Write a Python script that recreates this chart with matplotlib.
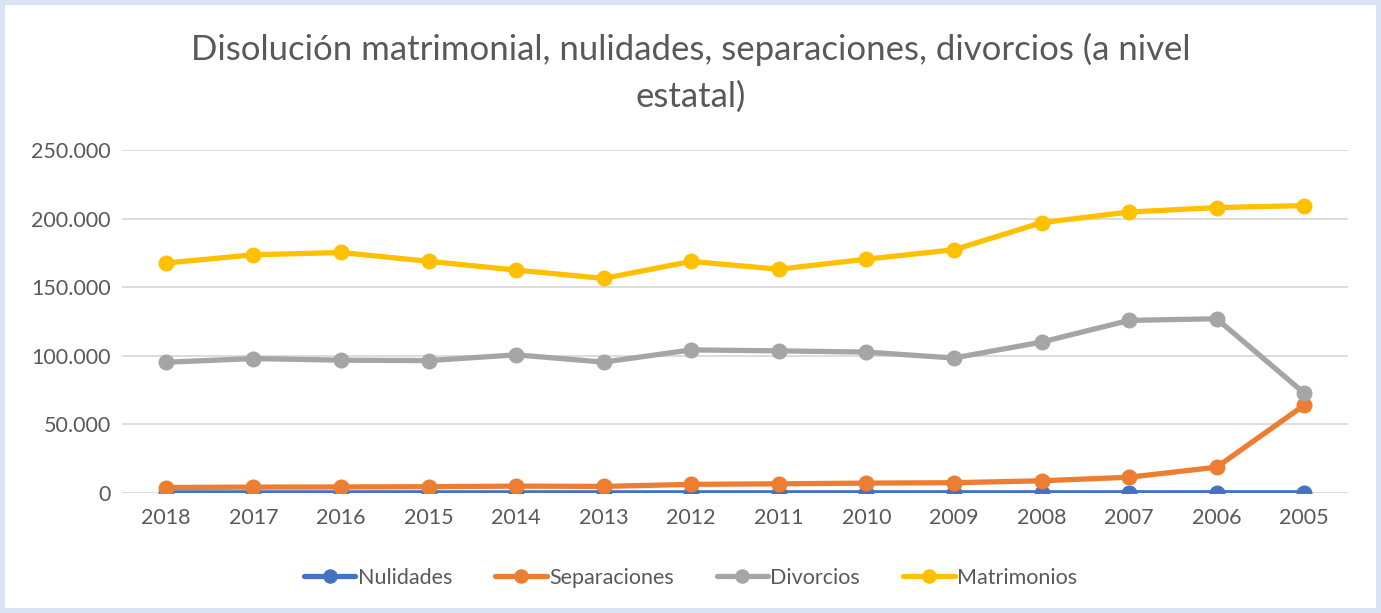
import matplotlib.pyplot as plt
from matplotlib.patches import Rectangle
from matplotlib.ticker import FuncFormatter

years = ["2018", "2017", "2016", "2015", "2014", "2013", "2012",
         "2011", "2010", "2009", "2008", "2007", "2006", "2005"]

nulidades = [100, 110, 110, 110, 120, 130, 130, 130, 140, 150, 150, 150, 160, 165]
separaciones = [4000, 4300, 4400, 4600, 5000, 4800, 6300, 6700, 7200, 7500, 8900, 11500, 18800, 64000]
divorcios = [95300, 98000, 96800, 96500, 100700, 95400, 104300, 103600, 102700, 98400, 110000, 125800, 127000, 72800]
matrimonios = [167600, 173600, 175300, 168900, 162500, 156400, 168800, 163100, 170400, 177300, 197000, 204800, 208000, 209500]

series = [("Nulidades", nulidades, "#4472C4"),
          ("Separaciones", separaciones, "#ED7D31"),
          ("Divorcios", divorcios, "#A5A5A5"),
          ("Matrimonios", matrimonios, "#FFC000")]

plt.rcParams['font.family'] = ['Lato', 'DejaVu Sans']
text_col = "#595959"

fig = plt.figure(figsize=(13.81, 6.13), dpi=100)
fig.patch.set_facecolor("#DAE3F3")
# white chart area inside the light border
fig.add_artist(Rectangle((5 / 1381, 5 / 613), 1371 / 1381, 603 / 613,
                         transform=fig.transFigure, facecolor="white",
                         edgecolor="none", zorder=0))

ax = fig.add_axes([122 / 1381, 120 / 613, 1226 / 1381, 343 / 613])
ax.set_facecolor("none")

x = list(range(len(years)))
for name, vals, col in series:
    ax.plot(x, vals, color=col, lw=3.8, marker="o", ms=10.5, label=name,
            solid_capstyle="round", zorder=3)

ax.set_xlim(-0.5, len(years) - 0.5)
ax.set_ylim(0, 250000)
ax.set_yticks(range(0, 250001, 50000))
ax.yaxis.set_major_formatter(FuncFormatter(lambda v, p: f"{int(v):,}".replace(",", ".")))
ax.set_xticks(x)
ax.set_xticklabels(years)
ax.grid(axis="y", color="#D9D9D9", lw=1.3)
ax.set_axisbelow(True)
for s in ax.spines.values():
    s.set_visible(False)
ax.tick_params(length=0, labelsize=15.5, colors=text_col, pad=8)
ax.tick_params(axis="x", pad=11)

fig.text(0.5, 1 - 73 / 613, "Disolución matrimonial, nulidades, separaciones, divorcios (a nivel\nestatal)",
         ha="center", va="center", fontsize=25, color=text_col, linespacing=1.55)

fig.legend(loc="center", bbox_to_anchor=(0.5, 1 - 578 / 613), ncol=4,
           frameon=False, fontsize=15.5, labelcolor=text_col, handlelength=2.4,
           columnspacing=2.0, handletextpad=0.1, markerscale=0.9)

fig.savefig("out.png", dpi=100)
